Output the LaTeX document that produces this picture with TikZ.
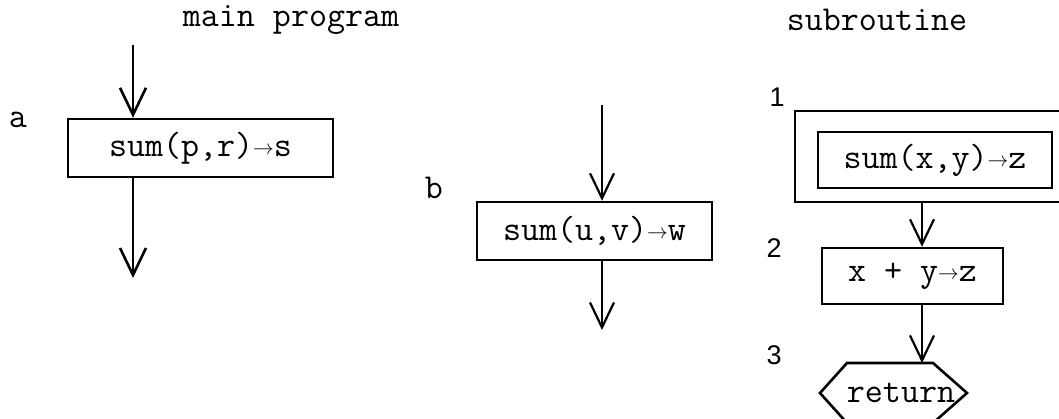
\documentclass[tikz,border=0pt]{standalone}
\usepackage{fontspec}
\newfontfamily\digfont{Liberation Sans}
\usetikzlibrary{arrows.meta}
\newcommand\sarr{\raisebox{2pt}{\fontsize{22}{22}\selectfont$\rightarrow$}}
\begin{document}
\begin{tikzpicture}[x=1pt,y=-1pt,
  tt/.style={font=\fontsize{35}{40}\selectfont\ttfamily},
  box/.style={draw, line width=2.4pt, inner sep=0pt, tt},
  arr/.style={line width=2.6pt, -{Straight Barb[length=27pt,width=26pt]}},
  sarrow/.style={line width=2.2pt, -{Straight Barb[length=25pt,width=24pt]}},
  lbl/.style={tt},
  dig/.style={font=\fontsize{27}{30}\selectfont\digfont}]
\useasboundingbox (0,0) rectangle (1059,419);
% titles and labels
\node[tt] (mp) at (291,20) {main program};
\node[tt] (sr) at (877,20) {subroutine};
\node[lbl] (la) at (18,120) {a};
\node[lbl] (lb) at (434,188) {b};
\node[dig] (l1) at (777,97) {1};
\node[dig] (l2) at (774,248) {2};
\node[dig] (l3) at (774,355) {3};
% boxes
\node[box, minimum width=265pt, minimum height=58pt] (A) at (200.5,148) {sum(p,r)\sarr s};
\node[box, minimum width=235pt, minimum height=58pt] (B) at (594.5,231) {sum(u,v)\sarr w};
\node[draw, line width=2.4pt, minimum width=275pt, minimum height=91pt] (S1o) at (932.5,156.5) {};
\node[box, minimum width=234pt, minimum height=56pt] (S1) at (935,160) {sum(x,y)\sarr z};
\node[box, minimum width=181pt, minimum height=56pt] (S2) at (912.5,276) {x + y\sarr z};
% return hexagon
\node[tt, inner sep=0pt] (R) at (901,393) {return};
\coordinate (H) at (893.5,393);
\draw[line width=2.6pt] ([xshift=-73.5pt]H) -- ++(27,-30) -- ++(86,0) -- ++(34,30) -- ++(-34,30) -- ++(-86,0) -- cycle;
% connectors
\coordinate (a0) at (133,45);
\coordinate (a1) at (133,278);
\draw[arr] (a0) -- (a0 |- A.north);
\draw[arr] (a0 |- A.south) -- (a1);
\coordinate (b0) at (602,105);
\coordinate (b1) at (602,330);
\draw[sarrow] (b0) -- (b0 |- B.north);
\draw[sarrow] (b0 |- B.south) -- (b1);
\coordinate (s0) at (922,0);
\coordinate (Htop) at (922,363);
\draw[sarrow] (s0 |- S1o.south) -- (s0 |- S2.north);
\draw[sarrow] (s0 |- S2.south) -- (Htop);
\end{tikzpicture}
\end{document}
